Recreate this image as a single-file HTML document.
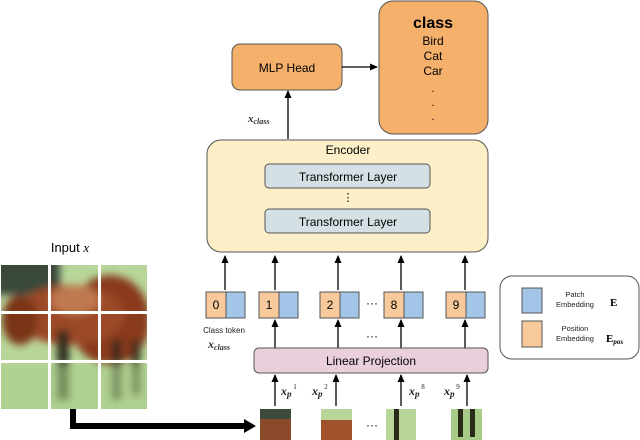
<!DOCTYPE html>
<html><head><meta charset="utf-8"><style>
html,body{margin:0;padding:0;background:#fff;}
svg{display:block;font-family:"Liberation Sans",sans-serif;}
</style></head><body>
<svg width="640" height="440" viewBox="0 0 640 440" xmlns="http://www.w3.org/2000/svg">
<defs>
<marker id="ah" markerWidth="8" markerHeight="8" refX="7" refY="4" orient="auto" markerUnits="userSpaceOnUse">
<path d="M0,0.5 L8,4 L0,7.5 Z" fill="#000"/></marker>
<filter id="bl"><feGaussianBlur stdDeviation="4"/></filter>
<filter id="bl2"><feGaussianBlur stdDeviation="2"/></filter>
<clipPath id="ci"><rect x="1" y="265" width="146" height="144"/></clipPath>
<clipPath id="cp"><rect x="0" y="409" width="640" height="31"/></clipPath>
</defs>

<rect x="379" y="1" width="109" height="133" rx="14" fill="#f5b06c" stroke="#555" stroke-width="1"/>
<text x="433" y="28" font-size="16" font-weight="bold" text-anchor="middle">class</text>
<text x="433" y="45" font-size="12" text-anchor="middle">Bird</text>
<text x="433" y="60" font-size="12" text-anchor="middle">Cat</text>
<text x="433" y="75" font-size="12" text-anchor="middle">Car</text>
<text x="433" y="92" font-size="11" text-anchor="middle">.</text>
<text x="433" y="106" font-size="11" text-anchor="middle">.</text>
<text x="433" y="120" font-size="11" text-anchor="middle">.</text>

<rect x="232" y="44" width="110" height="46" rx="8" fill="#f5b06c" stroke="#555"/>
<text x="287" y="72" font-size="12" text-anchor="middle">MLP Head</text>
<line x1="342" y1="67" x2="377" y2="67" stroke="#000" stroke-width="1.3" marker-end="url(#ah)"/>
<line x1="288" y1="139" x2="288" y2="91" stroke="#000" stroke-width="1.3" marker-end="url(#ah)"/>
<text x="248" y="122" font-size="11" font-weight="bold" font-style="italic" font-family="Liberation Serif,serif" fill="#333">x<tspan font-size="8" dy="2">class</tspan></text>

<rect x="207" y="140" width="281" height="112" rx="14" fill="#fdf0c8" stroke="#555"/>
<text x="348" y="154" font-size="12" text-anchor="middle">Encoder</text>
<rect x="265" y="164" width="165" height="24" rx="4" fill="#d4e0e4" stroke="#555"/>
<text x="348" y="181" font-size="12" text-anchor="middle">Transformer Layer</text>
<text x="348" y="201" font-size="11" text-anchor="middle">⋮</text>
<rect x="265" y="209" width="165" height="24" rx="4" fill="#d4e0e4" stroke="#555"/>
<text x="348" y="226" font-size="12" text-anchor="middle">Transformer Layer</text>

<g stroke="#000" stroke-width="1.3">
<line x1="225" y1="290" x2="225" y2="256" marker-end="url(#ah)"/>
<line x1="275" y1="290" x2="275" y2="256" marker-end="url(#ah)"/>
<line x1="338" y1="290" x2="338" y2="256" marker-end="url(#ah)"/>
<line x1="401" y1="290" x2="401" y2="256" marker-end="url(#ah)"/>
<line x1="465" y1="290" x2="465" y2="256" marker-end="url(#ah)"/>
<line x1="275" y1="348" x2="275" y2="320" marker-end="url(#ah)"/>
<line x1="338" y1="348" x2="338" y2="320" marker-end="url(#ah)"/>
<line x1="401" y1="348" x2="401" y2="320" marker-end="url(#ah)"/>
<line x1="465" y1="348" x2="465" y2="320" marker-end="url(#ah)"/>
<line x1="275" y1="406" x2="275" y2="375" marker-end="url(#ah)"/>
<line x1="336" y1="406" x2="336" y2="375" marker-end="url(#ah)"/>
<line x1="401" y1="406" x2="401" y2="375" marker-end="url(#ah)"/>
<line x1="467" y1="406" x2="467" y2="375" marker-end="url(#ah)"/>
</g>

<g stroke="#555" stroke-width="1">
<rect x="206" y="292" width="20" height="26" fill="#f8c99a"/><rect x="226" y="292" width="19" height="26" fill="#a3c6e8"/>
<rect x="259" y="292" width="20" height="26" fill="#f8c99a"/><rect x="279" y="292" width="19" height="26" fill="#a3c6e8"/>
<rect x="320" y="292" width="20" height="26" fill="#f8c99a"/><rect x="340" y="292" width="19" height="26" fill="#a3c6e8"/>
<rect x="384" y="292" width="20" height="26" fill="#f8c99a"/><rect x="404" y="292" width="19" height="26" fill="#a3c6e8"/>
<rect x="446" y="292" width="20" height="26" fill="#f8c99a"/><rect x="466" y="292" width="19" height="26" fill="#a3c6e8"/>
</g>
<g font-size="12" text-anchor="middle">
<text x="216" y="309">0</text><text x="269" y="309">1</text><text x="330" y="309">2</text><text x="394" y="309">8</text><text x="456" y="309">9</text>
<text x="372" y="307">···</text><text x="372" y="340">···</text><text x="372" y="429">···</text>
</g>
<text x="224" y="333" font-size="8" text-anchor="middle" fill="#222">Class token</text>
<text x="208" y="348" font-size="12" font-weight="bold" font-style="italic" font-family="Liberation Serif,serif" fill="#333">x<tspan font-size="8" dy="2">class</tspan></text>

<rect x="254" y="348" width="234" height="25" rx="5" fill="#e9cfdc" stroke="#555"/>
<text x="371" y="365" font-size="12" text-anchor="middle">Linear Projection</text>

<g font-family="Liberation Serif,serif" font-style="italic" font-weight="bold" font-size="12" fill="#222">
<text x="281" y="395">x<tspan font-size="9" dy="2">p</tspan><tspan font-size="7" dy="-8" font-style="normal" font-weight="normal"> 1</tspan></text>
<text x="312" y="395">x<tspan font-size="9" dy="2">p</tspan><tspan font-size="7" dy="-8" font-style="normal" font-weight="normal"> 2</tspan></text>
<text x="409" y="395">x<tspan font-size="9" dy="2">p</tspan><tspan font-size="7" dy="-8" font-style="normal" font-weight="normal"> 8</tspan></text>
<text x="444" y="395">x<tspan font-size="9" dy="2">p</tspan><tspan font-size="7" dy="-8" font-style="normal" font-weight="normal"> 9</tspan></text>
</g>

<rect x="500" y="276" width="139" height="83" rx="12" fill="#fff" stroke="#555"/>
<rect x="522" y="288" width="20" height="25" fill="#a3c6e8" stroke="#555"/>
<rect x="522" y="321" width="20" height="26" fill="#f8c99a" stroke="#555"/>
<g font-size="7.5" text-anchor="middle" fill="#222">
<text x="575" y="297">Patch</text><text x="575" y="307">Embedding</text>
<text x="575" y="331">Position</text><text x="575" y="341">Embedding</text>
</g>
<text x="610" y="306" font-size="11" font-weight="bold" font-family="Liberation Serif,serif">E</text>
<text x="606" y="342" font-size="11" font-weight="bold" font-family="Liberation Serif,serif">E<tspan font-size="7" dy="2" font-style="italic">pos</tspan></text>

<text x="70" y="252" font-size="13" text-anchor="middle">Input <tspan font-family="Liberation Serif,serif" font-style="italic">x</tspan></text>
<g clip-path="url(#ci)">
<rect x="-10" y="255" width="170" height="165" fill="#b8d69a"/>
<g filter="url(#bl)">
<rect x="-10" y="255" width="70" height="40" fill="#3a4a3a"/>
<ellipse cx="110" cy="320" rx="40" ry="45" fill="#8a3a1c"/>
<ellipse cx="70" cy="315" rx="55" ry="30" fill="#9b4a28"/>
<ellipse cx="20" cy="320" rx="18" ry="25" fill="#7a3418"/>
<ellipse cx="75" cy="300" rx="25" ry="15" fill="#c07850"/>
<rect x="57" y="330" width="12" height="70" fill="#2a2a1a"/>
<rect x="112" y="340" width="9" height="60" fill="#2e2a1a"/>
<rect x="132" y="340" width="8" height="55" fill="#2e2a1a"/>
<rect x="-10" y="365" width="170" height="55" fill="#a8cc88" opacity="0.6"/>
</g>
</g>
<g fill="#fff"><rect x="48" y="265" width="3" height="144"/><rect x="98" y="265" width="3" height="144"/>
<rect x="1" y="311" width="146" height="3"/><rect x="1" y="360" width="146" height="3"/></g>

<path d="M73,409 V426 H246" fill="none" stroke="#000" stroke-width="6"/>
<path d="M244,419 L256,426 L244,433 Z" fill="#000"/>

<g clip-path="url(#cp)">
<rect x="260" y="409" width="31" height="31" fill="#8a4a2a"/><rect x="260" y="409" width="31" height="10" fill="#3e4a3a"/>
<rect x="321" y="409" width="31" height="31" fill="#b8d69a"/><rect x="321" y="420" width="31" height="20" fill="#a0522d"/>
<rect x="386" y="409" width="30" height="31" fill="#b8d69a"/><rect x="394" y="409" width="5" height="31" fill="#2a2a1a"/>
<rect x="451" y="409" width="31" height="31" fill="#a8cc88"/><rect x="458" y="409" width="5" height="28" fill="#2a2a1a"/><rect x="470" y="409" width="5" height="28" fill="#2a2a1a"/>
</g>
</svg>
</body></html>
